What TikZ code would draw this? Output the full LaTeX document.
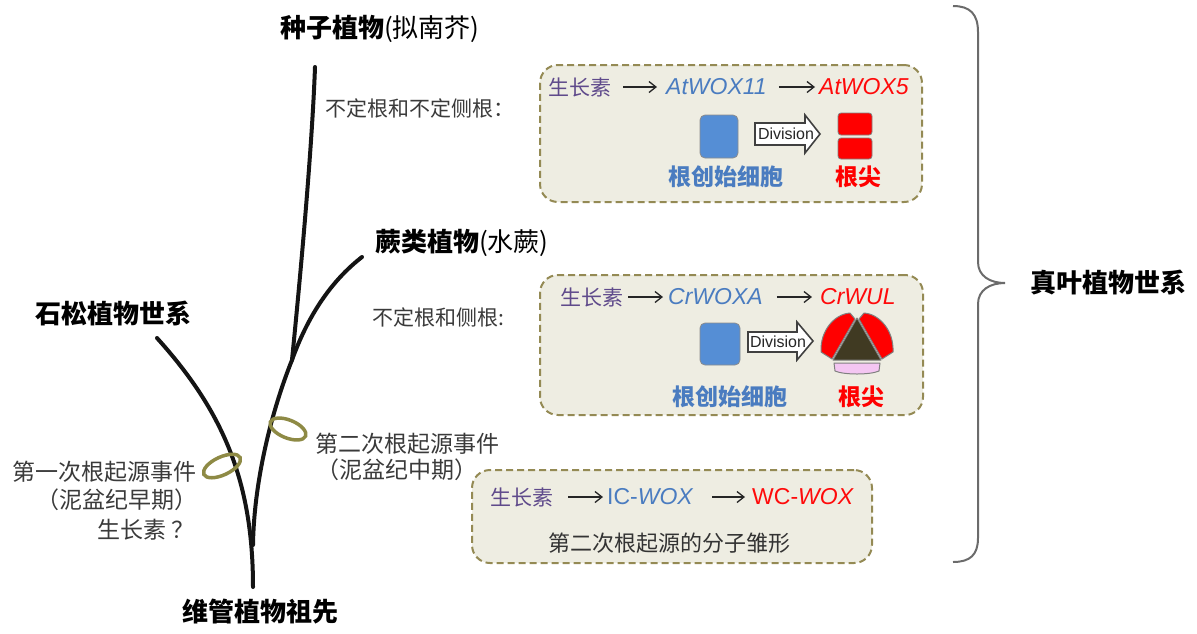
\documentclass[tikz,border=0pt]{standalone}
\usepackage{fontspec}
\setmainfont{Liberation Sans}
\newfontfamily\cjk{Noto Sans CJK SC}
\usetikzlibrary{arrows.meta}

\definecolor{boxfill}{HTML}{EEEDE2}
\definecolor{boxline}{HTML}{948A54}
\definecolor{ringc}{HTML}{8E8A45}
\definecolor{auxinc}{HTML}{5F4A8B}
\definecolor{woxblue}{HTML}{4A7CC0}
\definecolor{woxred}{HTML}{FF0A0A}
\definecolor{cellblue}{HTML}{558ED5}
\definecolor{txtgray}{HTML}{3A3A3A}
\definecolor{bracec}{HTML}{6B6B6B}
\definecolor{tipdark}{HTML}{403A22}
\definecolor{tippink}{HTML}{F4C6F2}

\newcommand{\fsz}[1]{\fontsize{#1}{#1}\selectfont}

\begin{document}
\begin{tikzpicture}[x=1pt,y=-1pt,
  title/.style={inner sep=0, anchor=west, font=\cjk\bfseries\fsz{26}, text=black},
  note/.style={inner sep=0, anchor=west, font=\cjk\fsz{21}, text=txtgray},
  event/.style={inner sep=0, anchor=west, font=\cjk\fsz{23}, text=txtgray},
  panel/.style={draw=boxline, fill=boxfill, line width=2pt, dash pattern=on 7pt off 4pt, rounded corners=18pt, inner sep=0},
  auxin/.style={inner sep=0, anchor=west, font=\cjk\fsz{21}, text=auxinc},
  woxb/.style={inner sep=0, anchor=west, font=\itshape\fsz{23}, text=woxblue},
  woxr/.style={inner sep=0, anchor=west, font=\itshape\fsz{23}, text=woxred},
  arr/.style={-{Straight Barb[length=7pt,width=11pt]}, line width=1.3pt, black!85},
  cell/.style={draw=black!45, fill=cellblue, rounded corners=5pt, line width=0.8pt, inner sep=0},
  tipsq/.style={draw=black!50, fill=red, rounded corners=3pt, line width=0.8pt, inner sep=0},
  blockarr/.style={draw=black!75, fill=white, line width=1.6pt, line join=miter},
  divtxt/.style={inner sep=0, font=\fsz{16}, text=black!85},
  cellname/.style={inner sep=0, anchor=west, font=\cjk\bfseries\fsz{23}, text=woxblue},
  tipname/.style={inner sep=0, anchor=west, font=\cjk\bfseries\fsz{23}, text=red},
  molec/.style={inner sep=0, anchor=west, font=\cjk\fsz{22}, text=black!80},
  stem/.style={line width=4pt, black!92, line cap=round},
  ring/.style={draw=ringc, line width=3.5pt},
  tipline/.style={draw=black!50, line width=1pt, line join=round}
]
\useasboundingbox (0,0) rectangle (1197,633);

% ---- phylogeny ----
\draw[stem] (157,338) .. controls (222,410) and (253,480) .. (253,587);
\draw[stem] (253,545) .. controls (254,480) and (272,410) .. (292,360);
\draw[stem] (292,360) .. controls (300,280) and (312,150) .. (315,67);
\draw[stem] (292,360) .. controls (310,310) and (335,278) .. (362,257);

% root origin events
\draw[ring, rotate around={25:(222,466)}] (222,466) ellipse (20pt and 9pt);
\draw[ring, rotate around={-22:(288,429)}] (288,429) ellipse (19pt and 9pt);

% clade labels
\node[title] (seed) at (280,29) {种子植物{\mdseries(拟南芥)}};
\node[title] (fern) at (375,243) {蕨类植物{\mdseries(水蕨)}};
\node[title] (lyco) at (35,313) {石松植物世系};
\node[title] (anc) at (182,612) {维管植物祖先};
\node[title] (euph) at (1030,283) {真叶植物世系};

% event annotations
\node[event] (ev2) at (315,444) {第二次根起源事件};
\node[event, anchor=center] (ev2p) at (397,470) {（泥盆纪中期）};
\node[event] (ev1) at (12,472) {第一次根起源事件};
\node[event, anchor=center] (ev1p) at (117,500) {（泥盆纪早期）};
\node[event] (aux0) at (97,530) {生长素 ？};

\node[note] (adv1) at (325,108) {不定根和不定侧根：};
\node[note] (adv2) at (372,317) {不定根和侧根:};

% ---- brace for euphyllophytes ----
\draw[bracec, line width=2pt] (953,6) .. controls (970,6) and (978,14) .. (978,32)
  -- (978,262) .. controls (978,276) and (990,283) .. (1005,283)
  .. controls (990,283) and (978,290) .. (978,304)
  -- (978,538) .. controls (978,555) and (970,562) .. (953,562);

% ---- panel 1: seed plants ----
\node[panel, minimum width=382pt, minimum height=137pt] (box1) at (731,133.5) {};
\node[auxin] (a1) at (548,87) {\cjk 生长素};
\node[woxb] (b1) at (666,87) {AtWOX11};
\node[woxr] (c1) at (819,87) {AtWOX5};
\draw[arr, shorten <=12pt, shorten >=9pt] (a1.east) -- (b1.west |- a1.east);
\draw[arr, shorten <=12pt, shorten >=4pt] (b1.east |- a1.east) -- (c1.west |- a1.east);
\node[cell, minimum width=38pt, minimum height=43pt] (ini1) at (719,136.5) {};
\filldraw[blockarr] (755,123) -- (805,123) -- (805,115) -- (820,134) -- (805,153) -- (805,145) -- (755,145) -- cycle;
\node[divtxt] (div1) at (786,134) {Division};
\node[tipsq, minimum width=34pt, minimum height=22pt] (tipA) at (855,124) {};
\node[tipsq, minimum width=34pt, minimum height=21pt] (tipB) at (855,148.5) {};
\node[cellname] (n1) at (668,177) {根创始细胞};
\node[tipname] (t1) at (835,177) {根尖};

% ---- panel 2: ferns ----
\node[panel, minimum width=383pt, minimum height=140pt] (box2) at (731.5,345) {};
\node[auxin] (a2) at (560,297) {生长素};
\node[woxb] (b2) at (668,297) {CrWOXA};
\node[woxr] (c2) at (820,297) {CrWUL};
\draw[arr, shorten <=5pt, shorten >=5pt] (a2.east) -- (b2.west |- a2.east);
\draw[arr, shorten <=14pt, shorten >=8pt] (b2.east |- a2.east) -- (c2.west |- a2.east);
\node[cell, minimum width=40pt, minimum height=42pt] (ini2) at (720,344) {};
\filldraw[blockarr] (748,332) -- (797,332) -- (797,322) -- (813,341) -- (797,360) -- (797,352) -- (748,352) -- cycle;
\node[divtxt] (div2) at (778,342) {Division};
% root tip: two red flanks, dark quiescent triangle, pink cap
\filldraw[fill=red, tipline] (855,319) -- (850,313) .. controls (835,314) and (820,330) .. (821,352) -- (832,359) -- cycle;
\filldraw[fill=red, tipline] (859,319) -- (864,313) .. controls (879,314) and (894,330) .. (893,352) -- (882,359) -- cycle;
\filldraw[fill=tipdark, tipline] (857,318) -- (881,360) -- (833,360) -- cycle;
\filldraw[fill=tippink, tipline] (834,363) -- (880,363) -- (879,371) .. controls (870,375) and (844,375) .. (835,371) -- cycle;
\node[cellname] (n2) at (672,397) {根创始细胞};
\node[tipname] (t2) at (838,397) {根尖};

% ---- panel 3: molecular prototype ----
\node[panel, minimum width=400pt, minimum height=93pt] (box3) at (672,516.5) {};
\node[auxin] (a3) at (490,497) {生长素};
\node[woxb] (b3) at (607,497) {\upshape IC-\itshape WOX};
\node[woxr, font=\fsz{23}] (c3) at (752,497) {WC-\textit{WOX}};
\draw[arr, shorten <=15pt, shorten >=4pt] (a3.east) -- (b3.west |- a3.east);
\draw[arr, shorten <=19pt, shorten >=7pt] (b3.east |- a3.east) -- (c3.west |- a3.east);
\node[molec] (m3) at (548,543) {第二次根起源的分子雏形};
\end{tikzpicture}
\end{document}
